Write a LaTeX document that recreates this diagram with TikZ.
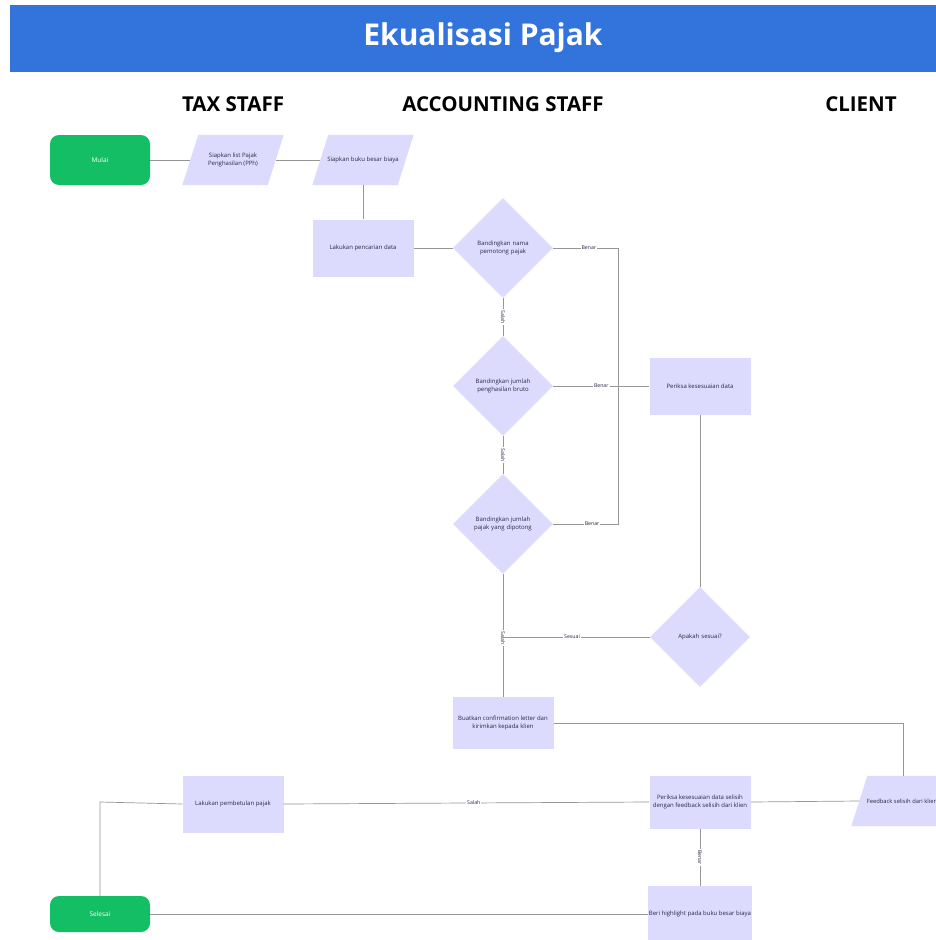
\documentclass[tikz,border=0pt]{standalone}
\usepackage{fontspec}
\setmainfont{Open Sans}
\usetikzlibrary{shapes.geometric,backgrounds}
\definecolor{titleblue}{RGB}{50,115,220}
\definecolor{startgreen}{RGB}{20,190,100}
\definecolor{lav}{RGB}{221,219,253}
\definecolor{edgegray}{RGB}{150,150,150}
\definecolor{txt}{RGB}{40,40,70}
\tikzset{
  base/.style={inner sep=1pt, align=center, text=txt, font=\fontsize{6}{7.5}\selectfont},
  terminal/.style={base, rounded corners=9pt, fill=startgreen, text=white, minimum width=100pt, minimum height=50pt, font=\fontsize{6.5}{8}\selectfont},
  procbox/.style={base, fill=lav, minimum width=101pt, minimum height=57pt},
  iobox/.style={base, minimum width=101pt, minimum height=50pt},
  parafill/.style={fill=lav},
  decision/.style={base, fill=lav, diamond, aspect=1, minimum width=100pt, minimum height=100pt, inner sep=0pt, text width=62pt},
  conn/.style={draw=edgegray, line width=0.7pt},
  elabel/.style={fill=white, inner sep=1pt, text=txt, font=\fontsize{5.2}{6}\selectfont},
  header/.style={font=\fontsize{20.5}{22}\selectfont\bfseries, text=black},
}
\newcommand{\myparallelogram}[1]{%
  \fill[parafill] ([xshift=16pt]#1.north west) -- (#1.north east) -- ([xshift=-16pt]#1.south east) -- (#1.south west) -- cycle;}
\begin{document}
\begin{tikzpicture}[x=1pt, y=-1pt]
\useasboundingbox (0,0) rectangle (936,940);
\clip (0,0) rectangle (936,940);
% title
\fill[titleblue] (10,5) rectangle (936,72);
\node[font=\fontsize{30}{32}\selectfont\bfseries, text=white] (title) at (483,38) {Ekualisasi Pajak};
% headers
\node[header] (h1) at (233,104) {TAX STAFF};
\node[header] (h2) at (503,104) {ACCOUNTING STAFF};
\node[header] (h3) at (861,104) {CLIENT};
% nodes
\node[terminal] (mulai) at (100,160) {Mulai};
\node[iobox] (pph) at (233,160) {Siapkan list Pajak\\Penghasilan (PPh)};
\node[iobox] (bb) at (363,160) {Siapkan buku besar biaya};
\node[procbox] (cari) at (363,248) {Lakukan pencarian data};
\node[decision] (d1) at (503,248) {Bandingkan nama\\pemotong pajak};
\node[decision] (d2) at (503,386) {Bandingkan jumlah\\penghasilan bruto};
\node[decision] (d3) at (503,524) {Bandingkan jumlah\\pajak yang dipotong};
\node[procbox] (periksa) at (700,386) {Periksa kesesuaian data};
\node[decision] (sesuai) at (700,637) {Apakah sesuai?};
\node[procbox, minimum height=52pt] (conf) at (503,723) {Buatkan confirmation letter dan\\kirimkan kepada klien};
\node[iobox, font=\fontsize{5.8}{7}\selectfont] (fb) at (902,801) {Feedback selisih dari klien};
\node[procbox, minimum height=53pt] (cek) at (700,802) {Periksa kesesuaian data selisih\\dengan feedback selisih dari klien};
\node[procbox] (betul) at (233,804) {Lakukan pembetulan pajak};
\node[procbox, minimum height=56pt] (hl) at (700,914) {Beri highlight pada buku besar biaya};
\node[terminal, minimum height=36pt] (selesai) at (100,914) {Selesai};
\begin{scope}[on background layer]
  \fill[white] (0,0) rectangle (936,940);
  \myparallelogram{pph}
  \myparallelogram{bb}
  \myparallelogram{fb}
\end{scope}
% junction coordinates
\coordinate (j1) at (618,248);
\coordinate (j2) at (618,386);
\coordinate (j3) at (618,524);
\coordinate (j4) at (503,637);
\coordinate (j5) at (903,723);
\coordinate (j6) at (100,802);
% connectors
\draw[conn] (mulai.east) -- ([xshift=8pt]pph.west);
\draw[conn] ([xshift=-8pt]pph.east) -- ([xshift=8pt]bb.west);
\draw[conn] (bb) -- (cari);
\draw[conn] (cari) -- (d1);
\draw[conn] (d1.east) -- node[elabel, pos=0.55] {Benar} (j1) -- (j2);
\draw[conn] (d2.east) -- node[elabel, pos=0.5] {Benar} (periksa.west);
\draw[conn] (d3.east) -- node[elabel, pos=0.6] {Benar} (j3) -- (j2);
\draw[conn] (d1) -- node[elabel, rotate=-90] {Salah} (d2);
\draw[conn] (d2) -- node[elabel, rotate=-90] {Salah} (d3);
\draw[conn] (d3) -- node[elabel, rotate=-90, pos=0.52] {Salah} (conf);
\draw[conn] (sesuai.west) -- node[elabel, pos=0.53] {Sesuai} (j4);
\draw[conn] (periksa) -- (sesuai);
\draw[conn] (conf.east) -- (j5) -- (fb.north -| j5);
\draw[conn] ([xshift=8pt]fb.west) -- (cek.east);
\draw[conn] (cek.west) -- node[elabel, pos=0.48] {Salah} (betul.east);
\draw[conn] (betul.west) -- (j6) -- (selesai.north);
\draw[conn] (cek) -- node[elabel, rotate=-90] {Benar} (hl);
\draw[conn] (hl) -- (selesai);
\end{tikzpicture}
\end{document}
